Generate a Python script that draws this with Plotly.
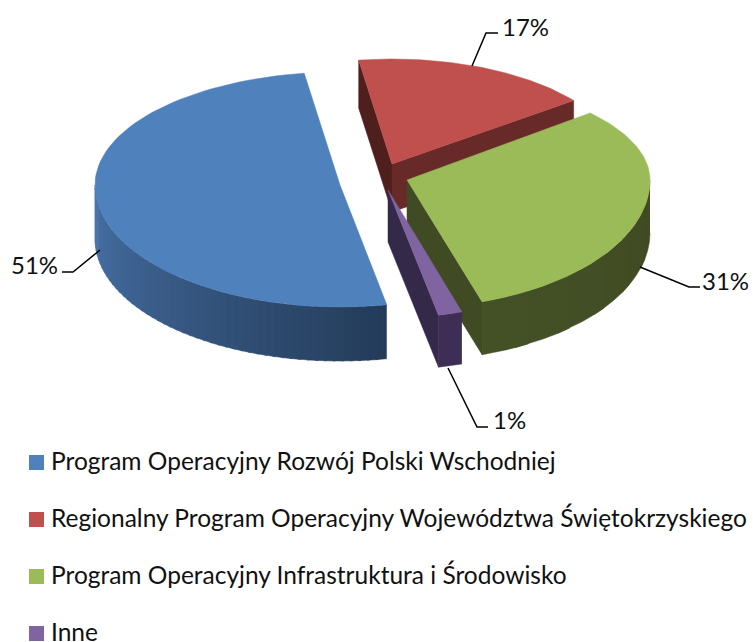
import numpy as np
import plotly.graph_objects as go

# Data
categories = ["Program Operacyjny Rozwój Polski Wschodniej",
              "Regionalny Program Operacyjny Województwa Świętokrzyskiego",
              "Program Operacyjny Infrastruktura i Środowisko",
              "Inne"]
values = [51, 17, 31, 1]
top_colors = ["#4F81BD", "#C0504D", "#9BBB59", "#8064A2"]
START_ANGLE = 168.0

# Projection of each exploded slice on the page
apex_x = [340, 392, 407, 388]
apex_y = [185, 164, 180, 190]
radius_x = [245, 228, 243, 243]
radius_back = [113, 105, 102, 110]
radius_front = [122, 122, 128, 128]
depth = [54, 48, 53, 52]
shift_start = [1.0, 0, -3.9, -2.1]
shift_end = [0, 0, -2.4, 0]

FONT = "Lato"
TEXT = "#111111"
fig = go.Figure()


def arc(i, th):
    th = np.radians(th)
    c = np.cos(th)
    b = np.where(c > 0, radius_back[i], radius_front[i])
    return apex_x[i] + radius_x[i] * np.sin(th), apex_y[i] - b * c


def poly(xs, ys, color):
    fig.add_trace(go.Scatter(x=list(xs), y=list(ys), mode="lines", fill="toself",
                             fillcolor=color, line=dict(color=color, width=0.5),
                             hoverinfo="skip", showlegend=False))


def mix(c1, c2, t):
    return "rgb(%d,%d,%d)" % tuple(round(a + (b - a) * t) for a, b in zip(c1, c2))


def wall(i, th, color):
    x, y = arc(i, th)
    poly([apex_x[i], x, x, apex_x[i], apex_x[i]],
         [apex_y[i], y, y + depth[i], apex_y[i] + depth[i], apex_y[i]], color)


def outer(i, a, b, c1, c2, steps):
    edges = np.linspace(a, b, steps + 1)
    step = edges[1] - edges[0]
    for k in range(steps):
        end = edges[k + 1] + step * 0.3
        if (step > 0 and end > b) or (step < 0 and end < b):
            end = b
        th = np.linspace(edges[k], end, 5)
        x, y = arc(i, th)
        poly(np.r_[x, x[::-1]], np.r_[y, y[::-1] + depth[i]], mix(c1, c2, k / max(steps - 1, 1)))


def top(i, a, b):
    th = np.linspace(a, b, 80)
    x, y = arc(i, th)
    poly(np.r_[apex_x[i], x, apex_x[i]], np.r_[apex_y[i], y, apex_y[i]], top_colors[i])


bounds = START_ANGLE + np.r_[0, np.cumsum(values)] * 3.6
ang = [(bounds[i] + shift_start[i], bounds[i + 1] + shift_end[i]) for i in range(4)]

# red (back)
wall(1, ang[1][0], "#4E1F1D")
wall(1, ang[1][1], "#672A28")
top(1, *ang[1])
# green
outer(2, 450, ang[2][1], (64, 75, 35), (68, 80, 38), 6)
wall(2, ang[2][1], "#404B23")
top(2, *ang[2])
# blue
outer(0, ang[0][0], 270, (36, 60, 90), (72, 114, 168), 50)
top(0, *ang[0])
# purple
wall(3, ang[3][1], "#35294A")
outer(3, ang[3][0], ang[3][1], (62, 46, 85), (62, 46, 85), 1)
top(3, *ang[3])

# Leaders and labels
leaders = [([100, 73, 62], [250, 272, 272]),
           ([472, 486, 498], [66, 33, 33]),
           ([640, 689, 700], [267, 287, 287]),
           ([448, 477, 488], [368, 427, 427])]
labels = ["51%", "17%", "31%", "1%"]
label_x = [34, 525, 725, 509]
label_y = [264, 26, 280, 419]
for (lx, ly), t, x, y in zip(leaders, labels, label_x, label_y):
    fig.add_trace(go.Scatter(x=lx, y=ly, mode="lines", line=dict(color="#000000", width=1.5),
                             hoverinfo="skip", showlegend=False))
    fig.add_annotation(x=x, y=y, text=t, showarrow=False, xref="x", yref="y",
                       font=dict(family=FONT, size=24, color=TEXT))

# Legend
legend_y = [462.5, 519.5, 576.5, 633.5]
for name, color, y in zip(categories, top_colors, legend_y):
    fig.add_trace(go.Scatter(x=[36.5], y=[y], mode="markers", name=name, hoverinfo="skip",
                             showlegend=False, marker=dict(symbol="square", size=15, color=color)))
    fig.add_annotation(x=49, y=y - 2, text=name, showarrow=False, xref="x", yref="y", xanchor="left",
                       font=dict(family=FONT, size=24.5, color=TEXT))

fig.update_layout(
    width=753, height=642, margin=dict(l=0, r=0, t=0, b=0), showlegend=False,
    paper_bgcolor="white", plot_bgcolor="white",
    xaxis=dict(range=[0, 753], visible=False, fixedrange=True),
    yaxis=dict(range=[642, 0], visible=False, fixedrange=True),
)
fig.write_html("out.html", config={"displayModeBar": False},
               post_script="document.body.style.margin='0';document.body.style.overflow='hidden';")
